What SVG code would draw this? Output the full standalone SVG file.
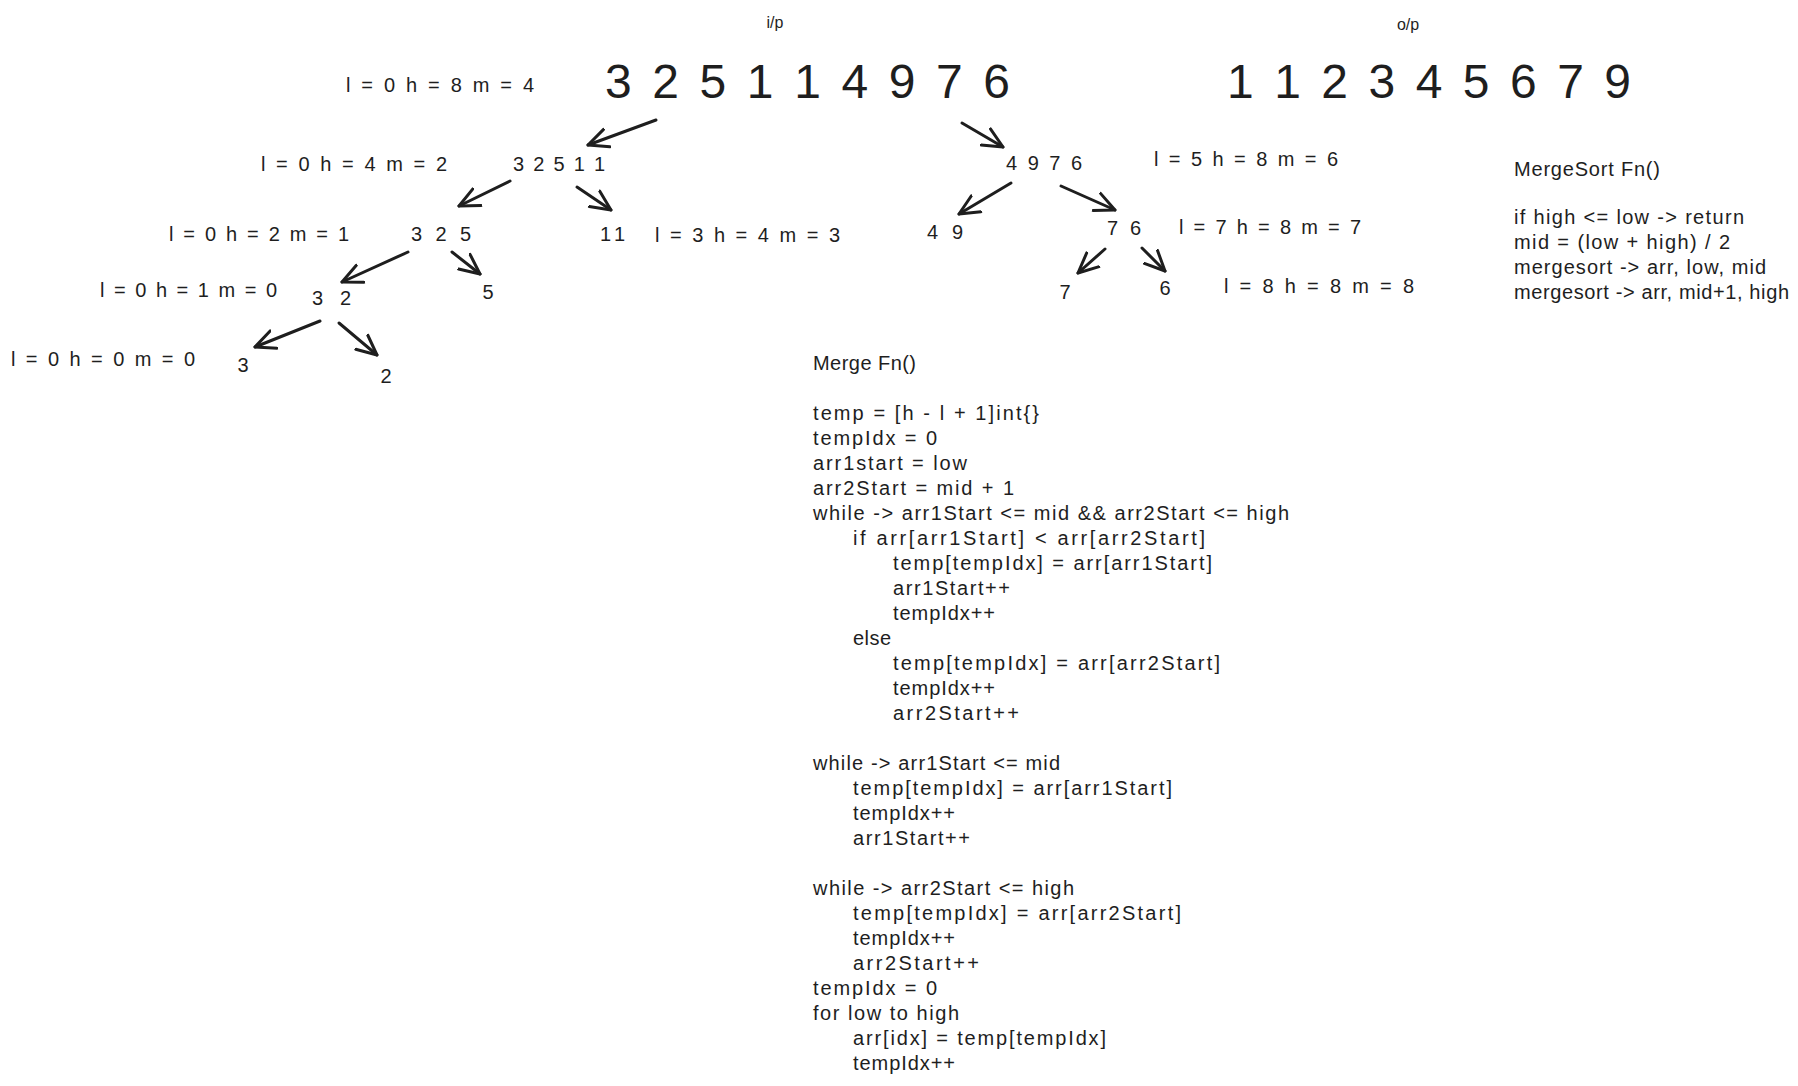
<svg xmlns="http://www.w3.org/2000/svg" width="1798" height="1086" viewBox="0 0 1798 1086">
<style>
text { font-family: "Liberation Sans", Arial, sans-serif; fill: #1e1e1e; }
.s20 { font-size: 20px; }
.s16 { font-size: 16px; }
.big { font-size: 48px; }
.code { font-size: 20px; }
.conn { fill: none; stroke: #1e1e1e; stroke-width: 3; stroke-linecap: round; marker-end: url(#ah); }
</style>
<defs>
<marker id="ah" markerWidth="26" markerHeight="26" refX="21" refY="13" orient="auto" markerUnits="userSpaceOnUse">
<path d="M1,3.7 L21,13 L1,22.3" fill="none" stroke="#1e1e1e" stroke-width="3" stroke-linecap="round" stroke-linejoin="round"/>
</marker>
</defs>
<rect width="1798" height="1086" fill="#ffffff"/>

<g id="label-ip"><text class="s16" x="775" y="28" text-anchor="middle">i/p</text></g>
<g id="label-op"><text class="s16" x="1408" y="30" text-anchor="middle">o/p</text></g>

<g id="node-input"><text class="big" x="605" y="98" textLength="405">3 2 5 1 1 4 9 7 6</text></g>
<g id="node-output"><text class="big" x="1227" y="98" textLength="404">1 1 2 3 4 5 6 7 9</text></g>
<g id="label-root"><text class="s20" x="346" y="92" textLength="188">l = 0 h = 8 m = 4</text></g>

<g id="node-32511"><text class="s20" x="513" y="171" textLength="92">3 2 5 1 1</text></g>
<g id="label-32511"><text class="s20" x="261" y="171" textLength="186">l = 0 h = 4 m = 2</text></g>
<g id="node-4976"><text class="s20" x="1006" y="170" textLength="76">4 9 7 6</text></g>
<g id="label-4976"><text class="s20" x="1154" y="166" textLength="184">l = 5 h = 8 m = 6</text></g>

<g id="node-325"><text class="s20" x="411" y="241" textLength="60">3 2 5</text></g>
<g id="label-325"><text class="s20" x="169" y="241" textLength="180">l = 0 h = 2 m = 1</text></g>
<g id="node-11"><text class="s20" x="600" y="241" textLength="25">1 1</text></g>
<g id="label-11"><text class="s20" x="655" y="242" textLength="185">l = 3 h = 4 m = 3</text></g>
<g id="node-49"><text class="s20" x="927" y="239" textLength="36">4 9</text></g>
<g id="node-76"><text class="s20" x="1107" y="235" textLength="34">7 6</text></g>
<g id="label-76"><text class="s20" x="1179" y="234" textLength="182">l = 7 h = 8 m = 7</text></g>

<g id="node-32"><text class="s20" x="312" y="305" textLength="39">3 2</text></g>
<g id="label-32"><text class="s20" x="100" y="297" textLength="177">l = 0 h = 1 m = 0</text></g>
<g id="node-5"><text class="s20" x="488" y="299" text-anchor="middle">5</text></g>
<g id="node-7"><text class="s20" x="1065" y="299" text-anchor="middle">7</text></g>
<g id="node-6"><text class="s20" x="1165" y="295" text-anchor="middle">6</text></g>
<g id="label-6"><text class="s20" x="1224" y="293" textLength="190">l = 8 h = 8 m = 8</text></g>

<g id="node-3"><text class="s20" x="243" y="372" text-anchor="middle">3</text></g>
<g id="label-3"><text class="s20" x="11" y="366" textLength="184">l = 0 h = 0 m = 0</text></g>
<g id="node-2"><text class="s20" x="386" y="383" text-anchor="middle">2</text></g>

<g id="mergesort-fn">
<text class="code" x="1514" y="176" textLength="146">MergeSort Fn()</text>
<text class="code" x="1514" y="224" textLength="230">if high &lt;= low -&gt; return</text>
<text class="code" x="1514" y="249" textLength="216">mid = (low + high) / 2</text>
<text class="code" x="1514" y="274" textLength="252">mergesort -&gt; arr, low, mid</text>
<text class="code" x="1514" y="299" textLength="275">mergesort -&gt; arr, mid+1, high</text>
</g>

<g id="merge-fn">
<text class="code" x="813" y="370" textLength="103">Merge Fn()</text>
<text class="code" x="813" y="420" textLength="226">temp = [h - l + 1]int{}</text>
<text class="code" x="813" y="445" textLength="124">tempIdx = 0</text>
<text class="code" x="813" y="470" textLength="154">arr1start = low</text>
<text class="code" x="813" y="495" textLength="201">arr2Start = mid + 1</text>
<text class="code" x="813" y="520" textLength="476">while -&gt; arr1Start &lt;= mid &amp;&amp; arr2Start &lt;= high</text>
<text class="code" x="853" y="545" textLength="352">if arr[arr1Start] &lt; arr[arr2Start]</text>
<text class="code" x="893" y="570" textLength="319">temp[tempIdx] = arr[arr1Start]</text>
<text class="code" x="893" y="595" textLength="117">arr1Start++</text>
<text class="code" x="893" y="620" textLength="102">tempIdx++</text>
<text class="code" x="853" y="645" textLength="38">else</text>
<text class="code" x="893" y="670" textLength="327">temp[tempIdx] = arr[arr2Start]</text>
<text class="code" x="893" y="695" textLength="102">tempIdx++</text>
<text class="code" x="893" y="720" textLength="126">arr2Start++</text>
<text class="code" x="813" y="770" textLength="247">while -&gt; arr1Start &lt;= mid</text>
<text class="code" x="853" y="795" textLength="319">temp[tempIdx] = arr[arr1Start]</text>
<text class="code" x="853" y="820" textLength="102">tempIdx++</text>
<text class="code" x="853" y="845" textLength="117">arr1Start++</text>
<text class="code" x="813" y="895" textLength="261">while -&gt; arr2Start &lt;= high</text>
<text class="code" x="853" y="920" textLength="328">temp[tempIdx] = arr[arr2Start]</text>
<text class="code" x="853" y="945" textLength="102">tempIdx++</text>
<text class="code" x="853" y="970" textLength="126">arr2Start++</text>
<text class="code" x="813" y="995" textLength="124">tempIdx = 0</text>
<text class="code" x="813" y="1020" textLength="146">for low to high</text>
<text class="code" x="853" y="1045" textLength="253">arr[idx] = temp[tempIdx]</text>
<text class="code" x="853" y="1070" textLength="102">tempIdx++</text>
</g>

<g id="connectors">
<path class="conn" d="M656,120 L588,145"/>
<path class="conn" d="M962,123 L1003,147"/>
<path class="conn" d="M510,181 L459,206"/>
<path class="conn" d="M577,187 L611,210"/>
<path class="conn" d="M1011,183 L959,214"/>
<path class="conn" d="M1061,186 L1115,210"/>
<path class="conn" d="M408,252 L342,282"/>
<path class="conn" d="M452,252 L480,274"/>
<path class="conn" d="M1105,249 L1078,273"/>
<path class="conn" d="M1142,248 L1165,271"/>
<path class="conn" d="M320,321 L255,347"/>
<path class="conn" d="M339,323 L377,355"/>
</g>
</svg>
